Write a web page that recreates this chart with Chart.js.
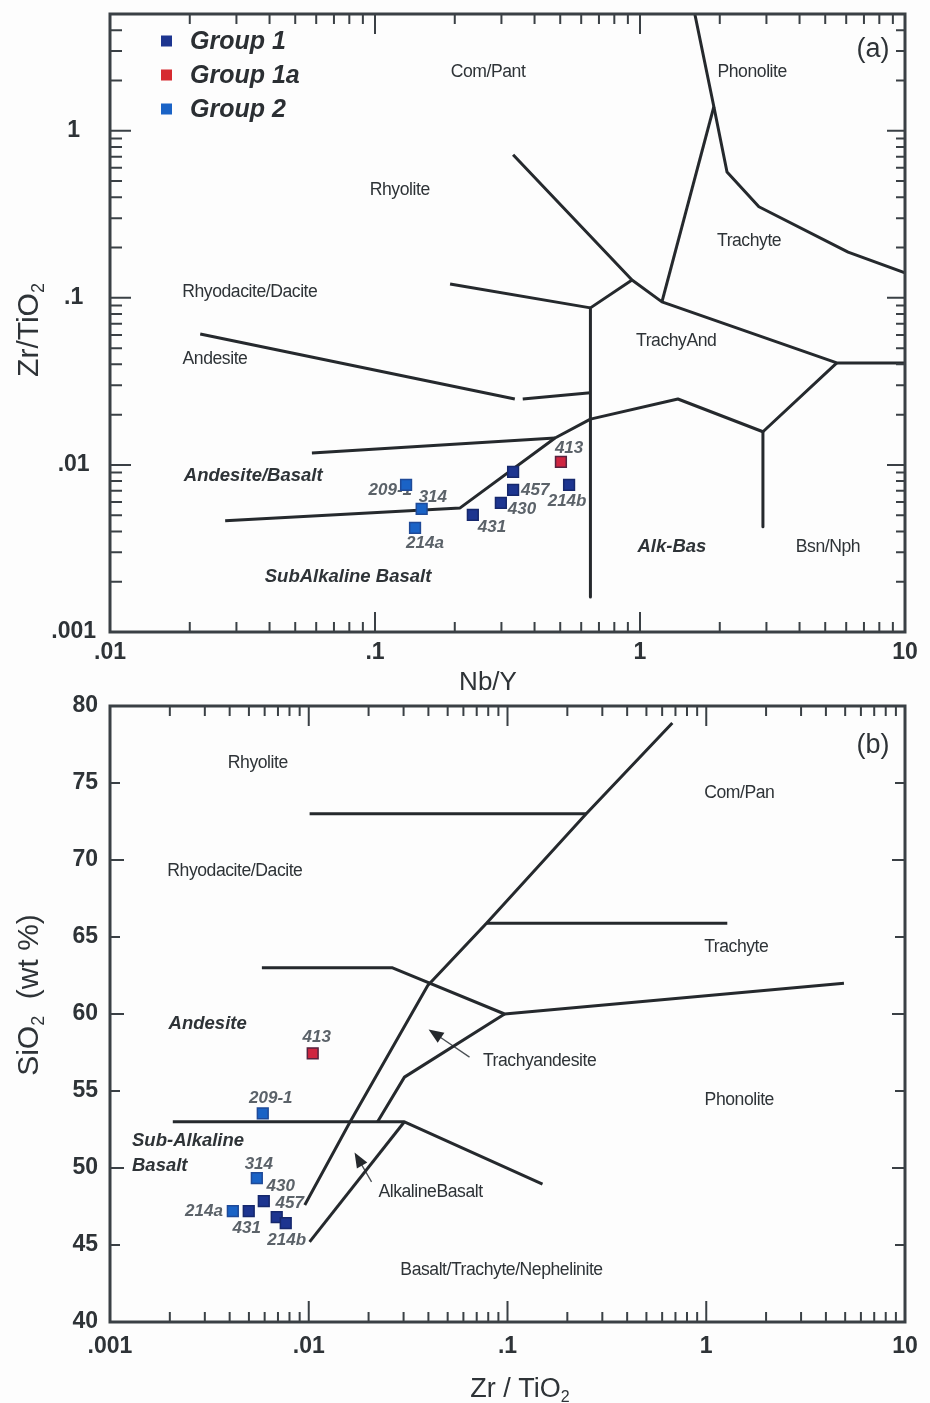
<!DOCTYPE html>
<html>
<head>
<meta charset="utf-8">
<title>Zr/TiO2 discrimination diagrams</title>
<script src="https://cdn.jsdelivr.net/npm/chart.js@4.4.1/dist/chart.umd.min.js"></script>
<style>
  html, body { margin: 0; padding: 0; background: #fdfdfd; }
  #wrapA { position: absolute; left: 0; top: 0; width: 930px; height: 690px; }
  #wrapB { position: absolute; left: 0; top: 690px; width: 930px; height: 713px; }
</style>
</head>
<body>
<div id="wrapA"><canvas id="chartA"></canvas></div>
<div id="wrapB"><canvas id="chartB"></canvas></div>
<script>
// ---------- (a) Nb/Y vs Zr/TiO2 ----------
const aXTicks = [0.01, 0.1, 1, 10];
const aXTickLabels = ['.01', '.1', '1', '10'];
const aYTicks = [0.001, 0.01, 0.1, 1];
const aYTickLabels = ['.001', '.01', '.1', '1'];

const aGroup1Names = ['431', '430', '457', '', '214b'];
const aGroup1NbY   = [0.234, 0.2985, 0.332, 0.332, 0.540];
const aGroup1ZrTi  = [0.00502, 0.00592, 0.00708, 0.00908, 0.00759];
const aGroup1aNames = ['413'];
const aGroup1aNbY   = [0.503];
const aGroup1aZrTi  = [0.01042];
const aGroup2Names = ['209-1', '314', '214a'];
const aGroup2NbY   = [0.131, 0.150, 0.1416];
const aGroup2ZrTi  = [0.00759, 0.00546, 0.00420];

// field boundaries, [Nb/Y, Zr/TiO2]
const aLinePhonolite  = [[1.61, 5], [1.90, 1.393], [2.13, 0.567], [2.81, 0.351], [6.10, 0.188], [10, 0.141]];
const aLineComPant    = [[1.90, 1.393], [1.21, 0.0946]];
const aLineRhyolite   = [[0.332, 0.718], [0.933, 0.128], [1.21, 0.0946], [5.53, 0.0408], [10, 0.0408]];
const aLineDacite     = [[0.933, 0.128], [0.65, 0.0871], [0.65, 0.00162]];
const aLineRhyodacite = [[0.192, 0.121], [0.65, 0.0871]];
const aLineAndesiteW  = [[0.0219, 0.0608], [0.337, 0.0248]];
const aLineAndesiteE  = [[0.361, 0.0248], [0.65, 0.0270]];
const aLineAlkBas     = [[0.0272, 0.00463], [0.2095, 0.00553], [0.478, 0.0145], [0.65, 0.0188], [1.39, 0.0248], [2.91, 0.0158], [5.53, 0.0408]];
const aLineBsnNph     = [[2.91, 0.0158], [2.91, 0.00426]];
const aLineAndBasalt  = [[0.0578, 0.0118], [0.478, 0.0145]];

const aFieldNames = ['Com/Pant', 'Phonolite', 'Rhyolite', 'Trachyte', 'Rhyodacite/Dacite', 'Andesite', 'TrachyAnd', 'Andesite/Basalt', 'Alk-Bas', 'Bsn/Nph', 'SubAlkaline Basalt'];
const aFieldNbY   = [0.267, 2.65, 0.124, 2.58, 0.0337, 0.0249, 1.37, 0.0347, 1.32, 5.12, 0.0791];
const aFieldZrTi  = [2.25, 2.25, 0.444, 0.219, 0.1086, 0.0432, 0.0553, 0.00859, 0.00323, 0.00323, 0.00213];
const aFieldEmph  = [false, false, false, false, false, false, false, true, true, false, true];

// ---------- (b) Zr/TiO2 vs SiO2 ----------
const bXTicks = [0.001, 0.01, 0.1, 1, 10];
const bXTickLabels = ['.001', '.01', '.1', '1', '10'];
const bYTicks = [40, 45, 50, 55, 60, 65, 70, 75, 80];
const bYTickLabels = ['40', '45', '50', '55', '60', '65', '70', '75', '80'];

const bGroup1Names = ['431', '430', '457', '214b'];
const bGroup1ZrTi  = [0.00499, 0.00594, 0.00690, 0.00766];
const bGroup1SiO2  = [47.2, 47.85, 46.81, 46.42];
const bGroup1aNames = ['413'];
const bGroup1aZrTi  = [0.01047];
const bGroup1aSiO2  = [57.45];
const bGroup2Names = ['209-1', '314', '214a'];
const bGroup2ZrTi  = [0.00587, 0.00548, 0.00415];
const bGroup2SiO2  = [53.55, 49.34, 47.2];

// field boundaries, [Zr/TiO2, SiO2]
const bLineRhyolite  = [[0.0101, 73], [0.249, 73]];
const bLineDacite    = [[0.00581, 63], [0.0264, 63], [0.0967, 60], [4.93, 62]];
const bLineComPan    = [[0.675, 78.9], [0.249, 73], [0.0784, 65.9], [0.0397, 61.85], [0.0161, 52.97], [0.00955, 47.6]];
const bLineTrachyte  = [[0.0784, 65.9], [1.276, 65.9]];
const bLineTrachyAnd = [[0.0967, 60], [0.0303, 55.9], [0.0222, 53]];
const bLineAlkBasalt = [[0.0303, 53], [0.0101, 45.2]];
const bLineSubAlk    = [[0.00207, 53], [0.0303, 53], [0.150, 48.95]];

const bArrowFrom = [[0.0644, 57.2], [0.0207, 49.1]];
const bArrowTo   = [[0.0401, 59.0], [0.0170, 51.0]];

const bFieldNames = ['Rhyolite', 'Com/Pan', 'Rhyodacite/Dacite', 'Trachyte', 'Andesite', 'Trachyandesite', 'Phonolite', 'Sub-Alkaline', 'Basalt', 'AlkalineBasalt', 'Basalt/Trachyte/Nephelinite'];
const bFieldZrTi  = [0.00554, 1.466, 0.00425, 1.416, 0.0031, 0.145, 1.466, 0.00247, 0.00178, 0.0410, 0.0933];
const bFieldSiO2  = [76.3, 74.37, 69.25, 64.32, 59.33, 56.93, 54.4, 51.74, 50.12, 48.43, 43.37];
const bFieldEmph  = [false, false, false, false, true, false, false, true, true, false, false];

// ---------- styling ----------
const FONT = '"Liberation Sans", Arial, Helvetica, sans-serif';
const INK = '#2e3337';
const LINE_INK = '#25292d';
const LABEL_INK = '#5b6269';
const GROUP_STYLE = {
  'Group 1':  { fill: '#1d3590', edge: '#16286c', key: '#1d3590' },
  'Group 1a': { fill: '#cf2540', edge: '#55233f', key: '#d62a30' },
  'Group 2':  { fill: '#1a63c6', edge: '#1f4a98', key: '#1a63c6' }
};

// sample-label placement: [dx, dy, align]
const aLabelPlace = {
  '209-1': [6, 5, 'right'], '314': [-3, -12, 'left'], '214a': [10, 15, 'center'],
  '431': [5, 12, 'left'], '430': [7, 6, 'left'], '457': [8, 0, 'left'],
  '413': [-6, -14, 'left'], '214b': [-2, 16, 'center']
};
const bLabelPlace = {
  '413': [4, -16, 'center'], '209-1': [8, -15, 'center'], '314': [2, -14, 'center'],
  '430': [17, -15, 'center'], '214a': [-10, 0, 'right'], '431': [-2, 17, 'center'],
  '457': [13, -14, 'center'], '214b': [1, 17, 'center']
};

function pts(xs, ys) { return xs.map((x, i) => ({ x: x, y: ys[i] })); }
function pairPts(pairs) { return pairs.map(p => ({ x: p[0], y: p[1] })); }

function groupSet(label, xs, ys, names) {
  const s = GROUP_STYLE[label];
  return {
    label: label, data: pts(xs, ys), sampleNames: names, sampleGroup: true,
    pointStyle: 'rect', pointRadius: 7.6, pointHoverRadius: 7.6,
    backgroundColor: s.fill, borderColor: s.edge, borderWidth: 1.5,
    showLine: false, order: 0
  };
}
function boundarySet(pairs) {
  return {
    label: '', data: pairPts(pairs), showLine: true, pointRadius: 0, pointHoverRadius: 0,
    borderColor: LINE_INK, borderWidth: 3, fill: false, tension: 0,
    borderJoinStyle: 'round', borderCapStyle: 'butt', order: 1
  };
}

function logTickMarks(min, max) {
  const out = [];
  for (let e = Math.floor(Math.log10(min)); e <= Math.ceil(Math.log10(max)); e++) {
    for (let m = 1; m <= 9; m++) {
      const v = m * Math.pow(10, e);
      if (v >= min * 0.999 && v <= max * 1.001) out.push({ v: v, major: m === 1 });
    }
  }
  return out;
}
function linTickMarks(min, max, step, majorEvery) {
  const out = [];
  for (let v = min; v <= max + 1e-9; v += step) out.push({ v: v, major: Math.abs(v % majorEvery) < 1e-9 });
  return out;
}

// text with subscript pieces: parts = [[text, isSub], ...]
function drawRich(ctx, parts, x, y, size, align) {
  const big = size + 'px ' + FONT, small = Math.round(size * 0.6) + 'px ' + FONT;
  let total = 0;
  parts.forEach(p => { ctx.font = p[1] ? small : big; total += ctx.measureText(p[0]).width; });
  let cx = align === 'center' ? x - total / 2 : x;
  ctx.textAlign = 'left';
  parts.forEach(p => {
    ctx.font = p[1] ? small : big;
    ctx.fillText(p[0], cx, p[1] ? y + size * 0.2 : y);
    cx += ctx.measureText(p[0]).width;
  });
}

const decor = {
  id: 'decor',
  beforeDatasetsDraw(chart, args, o) {
    const ctx = chart.ctx, xs = chart.scales.x, ys = chart.scales.y;
    ctx.save();
    ctx.textBaseline = 'middle';
    ctx.fillStyle = INK;
    // field names
    o.fieldNames.forEach((t, i) => {
      ctx.font = (o.fieldEmph[i] ? 'italic bold 18.5px ' : '17.6px ') + FONT;
      ctx.letterSpacing = o.fieldEmph[i] ? '0px' : '-0.45px';
      ctx.textAlign = 'center';
      ctx.fillText(t, xs.getPixelForValue(o.fieldX[i]), ys.getPixelForValue(o.fieldY[i]));
    });
    ctx.letterSpacing = '0px';
    // pointer arrows
    (o.arrowFrom || []).forEach((f, i) => {
      const t = o.arrowTo[i];
      const x0 = xs.getPixelForValue(f[0]), y0 = ys.getPixelForValue(f[1]);
      const x1 = xs.getPixelForValue(t[0]), y1 = ys.getPixelForValue(t[1]);
      const ang = Math.atan2(y1 - y0, x1 - x0), L = 15, W = 6;
      ctx.strokeStyle = '#4a4f54'; ctx.lineWidth = 1.3;
      ctx.beginPath(); ctx.moveTo(x0, y0); ctx.lineTo(x1 - L * 0.7 * Math.cos(ang), y1 - L * 0.7 * Math.sin(ang)); ctx.stroke();
      ctx.fillStyle = '#25292d';
      ctx.beginPath();
      ctx.moveTo(x1, y1);
      ctx.lineTo(x1 - L * Math.cos(ang) + W * Math.sin(ang), y1 - L * Math.sin(ang) - W * Math.cos(ang));
      ctx.lineTo(x1 - L * Math.cos(ang) - W * Math.sin(ang), y1 - L * Math.sin(ang) + W * Math.cos(ang));
      ctx.closePath(); ctx.fill();
    });
    // sample labels
    ctx.fillStyle = LABEL_INK;
    ctx.font = 'italic bold 17px ' + FONT;
    chart.data.datasets.forEach((ds, di) => {
      if (!ds.sampleGroup) return;
      const meta = chart.getDatasetMeta(di);
      ds.sampleNames.forEach((n, j) => {
        const place = o.labelPlace[n];
        if (!n || !place) return;
        const el = meta.data[j];
        ctx.textAlign = place[2];
        ctx.fillText(n, el.x + place[0], el.y + place[1]);
      });
    });
    ctx.restore();
  },
  afterDraw(chart, args, o) {
    const ctx = chart.ctx, a = chart.chartArea, xs = chart.scales.x, ys = chart.scales.y;
    ctx.save();
    ctx.strokeStyle = '#3a4045';
    // inward tick marks on all four sides
    ctx.lineWidth = 2;
    ctx.beginPath();
    o.xMarks.forEach(t => {
      const px = xs.getPixelForValue(t.v);
      const lb = t.major ? o.len.xb[0] : o.len.xb[1];
      const lt = t.major ? o.len.xt[0] : o.len.xt[1];
      ctx.moveTo(px, a.bottom); ctx.lineTo(px, a.bottom - lb);
      ctx.moveTo(px, a.top); ctx.lineTo(px, a.top + lt);
    });
    o.yMarks.forEach(t => {
      const py = ys.getPixelForValue(t.v);
      const ll = t.major ? o.len.yl[0] : o.len.yl[1];
      const lr = t.major ? o.len.yr[0] : o.len.yr[1];
      ctx.moveTo(a.left, py); ctx.lineTo(a.left + ll, py);
      ctx.moveTo(a.right, py); ctx.lineTo(a.right - lr, py);
    });
    ctx.stroke();
    // plot frame
    ctx.lineWidth = 3;
    ctx.strokeRect(a.left, a.top, a.right - a.left, a.bottom - a.top);
    // panel tag
    ctx.fillStyle = INK;
    ctx.font = '27px ' + FONT;
    ctx.textAlign = 'center'; ctx.textBaseline = 'middle';
    ctx.fillText(o.tag, a.right - 32, a.top + o.tagDy);
    // axis titles
    ctx.textBaseline = 'alphabetic';
    drawRich(ctx, o.xTitle, o.xTitlePos[0], o.xTitlePos[1], o.xTitleSize, 'center');
    ctx.save();
    ctx.translate(o.yTitlePos[0], o.yTitlePos[1]);
    ctx.rotate(-Math.PI / 2);
    drawRich(ctx, o.yTitle, 0, 0, 30, 'center');
    ctx.restore();
    // legend of sample groups
    if (o.legend) {
      let k = 0;
      chart.data.datasets.forEach(ds => {
        if (!ds.sampleGroup) return;
        const cy = a.top + 27 + k * 34;
        ctx.fillStyle = GROUP_STYLE[ds.label].key;
        ctx.fillRect(a.left + 51, cy - 5.5, 11, 11);
        ctx.fillStyle = '#2b2f33';
        ctx.font = 'italic bold 25px ' + FONT;
        ctx.textAlign = 'left'; ctx.textBaseline = 'middle';
        ctx.fillText(ds.label, a.left + 80, cy + 1);
        k++;
      });
    }
    ctx.restore();
  }
};

function tickFont() { return { family: FONT, size: 23, weight: 'bold' }; }

function makeOptions(cfg) {
  return {
    responsive: true, maintainAspectRatio: false, animation: false,
    layout: { padding: { top: cfg.padTop, right: 25, left: 0, bottom: 0 } },
    plugins: { legend: { display: false }, tooltip: { enabled: false }, decor: cfg.decor },
    scales: {
      x: {
        type: 'logarithmic', min: cfg.xMin, max: cfg.xMax,
        grid: { display: false, drawTicks: false }, border: { display: false },
        afterBuildTicks: s => { s.ticks = cfg.xTicks.map(v => ({ value: v, major: true })); },
        afterFit: s => { s.height = cfg.xAxisHeight; s.paddingLeft = 0; s.paddingRight = 0; },
        ticks: {
          autoSkip: false, maxRotation: 0, color: INK, font: tickFont(), padding: cfg.xPad,
          callback: (v, i) => cfg.xLabels[i]
        }
      },
      y: {
        type: cfg.yType, min: cfg.yMin, max: cfg.yMax,
        grid: { display: false, drawTicks: false }, border: { display: false },
        afterBuildTicks: s => { s.ticks = cfg.yTicks.map(v => ({ value: v, major: true })); },
        afterFit: s => { s.width = 110; s.paddingTop = 0; s.paddingBottom = 0; },
        ticks: {
          autoSkip: false, color: INK, font: tickFont(), padding: cfg.yPad, crossAlign: 'center',
          callback: (v, i) => cfg.yLabels[i]
        }
      }
    }
  };
}

// (a)
new Chart(document.getElementById('chartA'), {
  type: 'scatter',
  data: {
    datasets: [
      groupSet('Group 1', aGroup1NbY, aGroup1ZrTi, aGroup1Names),
      groupSet('Group 1a', aGroup1aNbY, aGroup1aZrTi, aGroup1aNames),
      groupSet('Group 2', aGroup2NbY, aGroup2ZrTi, aGroup2Names),
      boundarySet(aLinePhonolite), boundarySet(aLineComPant), boundarySet(aLineRhyolite),
      boundarySet(aLineDacite), boundarySet(aLineRhyodacite), boundarySet(aLineAndesiteW),
      boundarySet(aLineAndesiteE), boundarySet(aLineAlkBas), boundarySet(aLineBsnNph),
      boundarySet(aLineAndBasalt)
    ]
  },
  options: makeOptions({
    padTop: 14, xAxisHeight: 58, xMin: 0.01, xMax: 10, yType: 'logarithmic', yMin: 0.001, yMax: 5,
    xTicks: aXTicks, xLabels: aXTickLabels, yTicks: aYTicks, yLabels: aYTickLabels, xPad: 7, yPad: 14,
    decor: {
      fieldNames: aFieldNames, fieldX: aFieldNbY, fieldY: aFieldZrTi, fieldEmph: aFieldEmph,
      labelPlace: aLabelPlace,
      xMarks: logTickMarks(0.01, 10), yMarks: logTickMarks(0.001, 5),
      len: { xb: [20, 10], xt: [20, 10], yl: [21, 12], yr: [18, 9] },
      tag: '(a)', tagDy: 36, legend: true,
      xTitle: [['Nb/Y', false]], xTitlePos: [488, 690], xTitleSize: 26,
      yTitle: [['Zr/TiO', false], ['2', true]], yTitlePos: [38, 330]
    }
  }),
  plugins: [decor]
});

// (b)
new Chart(document.getElementById('chartB'), {
  type: 'scatter',
  data: {
    datasets: [
      groupSet('Group 1', bGroup1ZrTi, bGroup1SiO2, bGroup1Names),
      groupSet('Group 1a', bGroup1aZrTi, bGroup1aSiO2, bGroup1aNames),
      groupSet('Group 2', bGroup2ZrTi, bGroup2SiO2, bGroup2Names),
      boundarySet(bLineRhyolite), boundarySet(bLineDacite), boundarySet(bLineComPan),
      boundarySet(bLineTrachyte), boundarySet(bLineTrachyAnd), boundarySet(bLineAlkBasalt),
      boundarySet(bLineSubAlk)
    ]
  },
  options: makeOptions({
    padTop: 16, xAxisHeight: 81, xMin: 0.001, xMax: 10, yType: 'linear', yMin: 40, yMax: 80,
    xTicks: bXTicks, xLabels: bXTickLabels, yTicks: bYTicks, yLabels: bYTickLabels,
    xPad: 11, yPad: 12,
    decor: {
      fieldNames: bFieldNames, fieldX: bFieldZrTi, fieldY: bFieldSiO2, fieldEmph: bFieldEmph,
      labelPlace: bLabelPlace, arrowFrom: bArrowFrom, arrowTo: bArrowTo,
      xMarks: logTickMarks(0.001, 10), yMarks: linTickMarks(40, 80, 5, 10),
      len: { xb: [21, 10], xt: [20, 10], yl: [14, 10], yr: [13, 10] },
      tag: '(b)', tagDy: 40, legend: false,
      xTitle: [['Zr / TiO', false], ['2', true]], xTitlePos: [520, 707], xTitleSize: 27,
      yTitle: [['SiO', false], ['2', true], ['  (wt %)', false]], yTitlePos: [38, 305]
    }
  }),
  plugins: [decor]
});
</script>
</body>
</html>
